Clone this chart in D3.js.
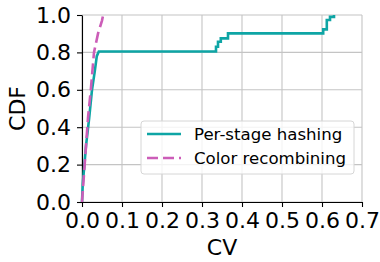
<!DOCTYPE html>
<html>
<head>
<meta charset="utf-8">
<script src="https://cdn.jsdelivr.net/npm/d3@7"></script>
<style>
  body { margin: 0; background: #fff; }
  text { font-family: "DejaVu Sans", sans-serif; fill: #000; }
</style>
</head>
<body>
<div id="chart"></div>
<script>
// CDF curves
const cvHash  = [0, 0.002, 0.01, 0.018, 0.025, 0.032, 0.037, 0.042, 0.335, 0.335, 0.34, 0.34, 0.347, 0.347, 0.365, 0.365, 0.603, 0.603, 0.612, 0.612, 0.62, 0.62, 0.63, 0.63];
const cdfHash = [0, 0.1, 0.3, 0.45, 0.6, 0.7, 0.78, 0.805, 0.805, 0.83, 0.83, 0.857, 0.857, 0.875, 0.875, 0.902, 0.902, 0.923, 0.923, 0.973, 0.973, 0.99, 0.99, 1.0];
const cvColor  = [0, 0.005, 0.01, 0.015, 0.022, 0.03, 0.04, 0.05, 0.053];
const cdfColor = [0, 0.15, 0.3, 0.45, 0.6, 0.8, 0.9, 0.97, 1.0];
const seriesNames = ["Per-stage hashing", "Color recombining"];
const xTicks = [0, 0.1, 0.2, 0.3, 0.4, 0.5, 0.6, 0.7];
const yTicks = [0, 0.2, 0.4, 0.6, 0.8, 1.0];

const totalWidth = 380, totalHeight = 262;
const margin = {top: 15, right: 18, bottom: 60, left: 82};
const width = totalWidth - margin.left - margin.right;
const height = totalHeight - margin.top - margin.bottom;

const svg = d3.select("#chart").append("svg")
  .attr("width", totalWidth)
  .attr("height", totalHeight)
  .append("g")
  .attr("transform", "translate(" + margin.left + "," + margin.top + ")");

const x = d3.scaleLinear().domain([0, 0.7]).range([0, width]);
const y = d3.scaleLinear().domain([0, 1]).range([height, 0]);

// grid
svg.append("g").selectAll("line").data(xTicks).enter().append("line")
  .attr("x1", d => x(d)).attr("x2", d => x(d))
  .attr("y1", 0).attr("y2", height)
  .attr("stroke", "#c4c4c4").attr("stroke-width", 1.1);
svg.append("g").selectAll("line").data(yTicks).enter().append("line")
  .attr("x1", 0).attr("x2", width)
  .attr("y1", d => y(d)).attr("y2", d => y(d))
  .attr("stroke", "#c4c4c4").attr("stroke-width", 1.1);

// axes
const xAxis = svg.append("g")
  .attr("transform", "translate(0," + height + ")")
  .call(d3.axisBottom(x).tickValues(xTicks).tickFormat(d3.format(".1f")).tickSize(5).tickSizeOuter(0).tickPadding(5));
const yAxis = svg.append("g")
  .call(d3.axisLeft(y).tickValues(yTicks).tickFormat(d3.format(".1f")).tickSize(5).tickSizeOuter(0).tickPadding(6));
[xAxis, yAxis].forEach(a => {
  a.select(".domain").attr("stroke", "#000").attr("stroke-width", 1.1);
  a.selectAll(".tick line").attr("stroke", "#000").attr("stroke-width", 1.1);
  a.selectAll(".tick text").style("font-size", "22px").style("font-family", "DejaVu Sans");
});

// lines
const line = d3.line().x(d => x(d[0])).y(d => y(d[1]));
svg.append("path")
  .datum(d3.zip(cvHash, cdfHash))
  .attr("d", line)
  .attr("fill", "none").attr("stroke", "#0ea5a5").attr("stroke-width", 2.6);
svg.append("path")
  .datum(d3.zip(cvColor, cdfColor))
  .attr("d", line)
  .attr("fill", "none").attr("stroke", "#cc5db8").attr("stroke-width", 2.6)
  .attr("stroke-dasharray", "11,5");

// axis labels
svg.append("text")
  .attr("x", width / 2).attr("y", height + 53)
  .attr("text-anchor", "middle").style("font-size", "22px").text("CV");
svg.append("text")
  .attr("transform", "translate(-57," + (height / 2) + ") rotate(-90)")
  .attr("text-anchor", "middle").style("font-size", "22px").text("CDF");

// legend
const lg = svg.append("g").attr("transform", "translate(" + (141 - margin.left) + "," + (121 - margin.top) + ")");
lg.append("rect")
  .attr("width", 213).attr("height", 53).attr("rx", 3)
  .attr("fill", "#fff").attr("fill-opacity", 0.8)
  .attr("stroke", "#d6d6d6").attr("stroke-width", 1);
const legendColors = ["#0ea5a5", "#cc5db8"];
seriesNames.forEach((name, i) => {
  const yy = 13 + i * 24;
  lg.append("line")
    .attr("x1", 6).attr("x2", 40).attr("y1", yy).attr("y2", yy)
    .attr("stroke", legendColors[i]).attr("stroke-width", 2.6)
    .attr("stroke-dasharray", i === 1 ? "11,5" : null);
  lg.append("text")
    .attr("x", 53).attr("y", yy + 6)
    .style("font-size", "16.6px").text(name);
});
</script>
</body>
</html>
